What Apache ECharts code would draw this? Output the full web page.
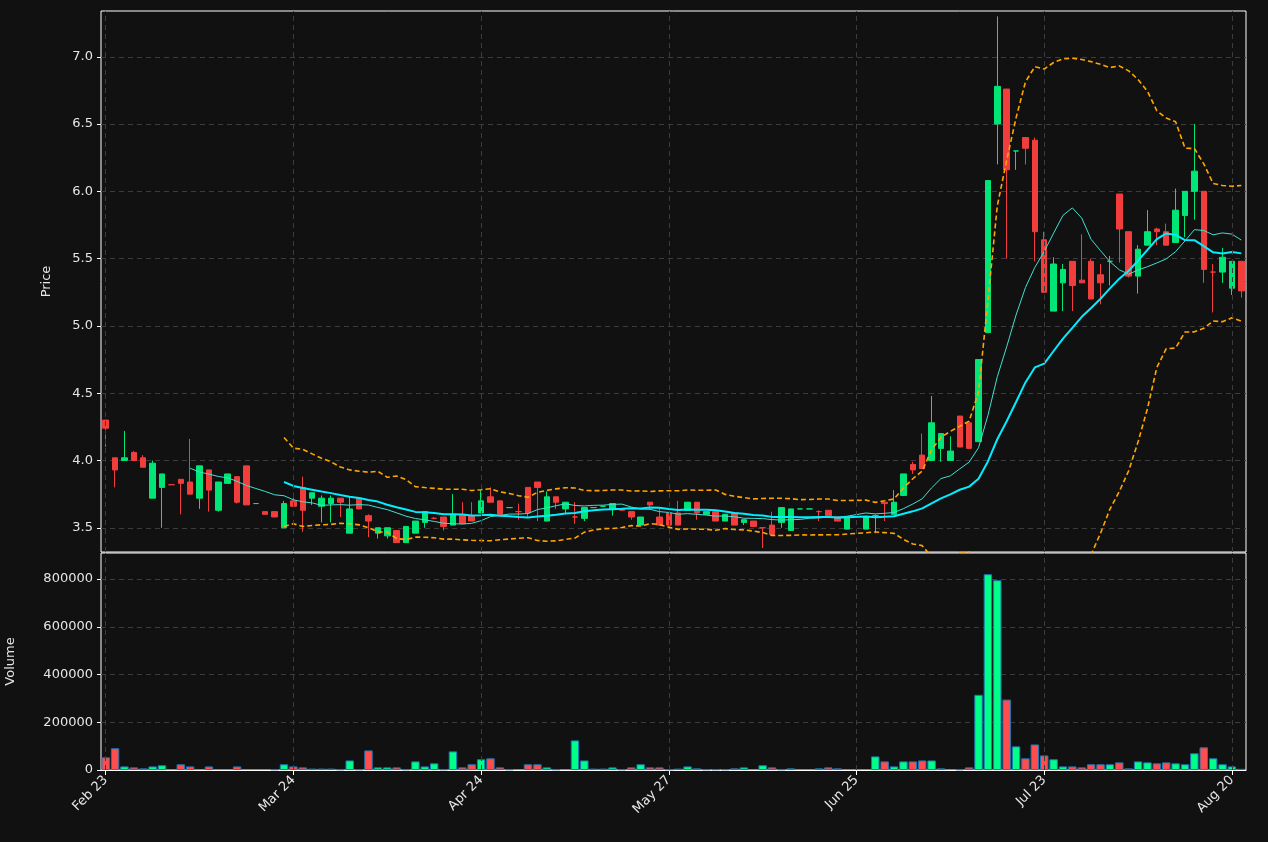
<!DOCTYPE html>
<html>
<head>
<meta charset="utf-8">
<script src="https://cdn.jsdelivr.net/npm/echarts@6/dist/echarts.min.js"></script>
<style>
html,body{margin:0;padding:0;background:#111111;}
#chart{width:1268px;height:842px;}
</style>
</head>
<body>
<div id="chart"></div>
<script>
// tick labels every 20 bars
var tickLabels = ['Feb 23', 'Mar 24', 'Apr 24', 'May 27', 'Jun 25', 'Jul 23', 'Aug 20'];

var opens = [4.30,4.02,4.00,4.06,4.02,3.72,3.80,3.82,3.86,3.84,3.72,3.93,3.63,3.83,3.88,3.96,3.68,3.62,3.62,3.50,
  3.70,3.80,3.72,3.66,3.68,3.72,3.46,3.72,3.59,3.46,3.44,3.48,3.39,3.46,3.54,3.57,3.58,3.52,3.60,3.59,
  3.61,3.73,3.70,3.65,3.62,3.80,3.84,3.55,3.73,3.64,3.58,3.57,3.65,3.66,3.64,3.64,3.62,3.52,3.69,3.58,
  3.61,3.61,3.63,3.69,3.60,3.62,3.55,3.61,3.54,3.55,3.50,3.52,3.54,3.48,3.64,3.64,3.62,3.63,3.58,3.49,
  null,3.49,3.59,3.69,3.60,3.74,3.97,4.04,4.00,4.09,4.00,4.33,4.28,4.14,4.95,6.50,6.76,6.30,6.40,6.38,
  5.64,5.11,5.32,5.48,5.34,5.48,5.38,5.48,5.98,5.70,5.37,5.60,5.72,5.70,5.62,5.82,6.00,6.00,5.40,5.40,
  5.28,5.48];
var closes = [4.24,3.93,4.02,4.00,3.95,3.98,3.90,3.82,3.83,3.75,3.96,3.78,3.84,3.90,3.69,3.67,3.68,3.60,3.58,3.68,
  3.66,3.63,3.76,3.72,3.72,3.69,3.64,3.64,3.55,3.50,3.50,3.39,3.51,3.55,3.62,3.57,3.51,3.60,3.53,3.55,
  3.70,3.69,3.60,3.65,3.62,3.61,3.80,3.73,3.69,3.69,3.58,3.65,3.65,3.66,3.68,3.63,3.58,3.58,3.67,3.52,
  3.52,3.52,3.69,3.61,3.62,3.55,3.60,3.52,3.56,3.51,3.50,3.45,3.65,3.64,3.64,3.64,3.62,3.59,3.55,3.58,
  null,3.58,3.59,3.68,3.69,3.90,3.93,3.94,4.28,4.20,4.07,4.10,4.09,4.75,6.08,6.78,6.16,6.30,6.32,5.70,
  5.25,5.46,5.42,5.30,5.32,5.20,5.32,5.48,5.72,5.37,5.57,5.70,5.70,5.60,5.86,6.00,6.15,5.42,5.40,5.51,
  5.48,5.26];
var lows = [4.10,3.80,4.00,4.00,3.95,3.72,3.50,3.82,3.60,3.75,3.64,3.62,3.62,3.83,3.68,3.67,3.68,3.60,3.58,3.50,
  3.66,3.47,3.67,3.54,3.54,3.58,3.46,3.64,3.43,3.42,3.42,3.39,3.39,3.46,3.50,3.57,3.48,3.52,3.53,3.55,
  3.61,3.69,3.60,3.65,3.56,3.57,3.55,3.55,3.64,3.60,3.53,3.55,3.65,3.66,3.59,3.63,3.56,3.52,3.64,3.52,
  3.52,3.52,3.63,3.56,3.60,3.55,3.55,3.52,3.52,3.51,3.35,3.45,3.50,3.48,3.64,3.64,3.55,3.59,3.55,3.49,
  null,3.49,3.46,3.55,3.60,3.74,3.90,3.94,4.00,3.99,4.00,4.10,4.09,4.14,4.95,6.20,5.50,6.16,6.20,5.48,
  5.25,5.11,5.11,5.11,5.32,5.20,5.16,5.30,5.47,5.36,5.24,5.60,5.60,5.60,5.62,5.66,5.79,5.32,5.10,5.32,
  5.23,5.21];
var highs = [4.30,4.02,4.22,4.07,4.04,4.00,3.90,3.82,3.86,4.16,3.96,3.93,3.84,3.90,3.88,3.96,3.68,3.62,3.62,3.70,
  3.76,3.88,3.76,3.74,3.74,3.72,3.73,3.72,3.60,3.50,3.50,3.48,3.51,3.55,3.62,3.58,3.58,3.75,3.69,3.69,
  3.78,3.80,3.70,3.65,3.68,3.80,3.84,3.77,3.73,3.69,3.69,3.65,3.65,3.66,3.68,3.64,3.62,3.58,3.69,3.65,
  3.61,3.70,3.69,3.69,3.62,3.62,3.60,3.61,3.56,3.55,3.50,3.62,3.65,3.64,3.64,3.64,3.63,3.63,3.58,3.58,
  null,3.58,3.60,3.69,3.78,3.90,3.99,4.20,4.48,4.20,4.18,4.33,4.28,4.75,6.08,7.30,6.76,6.30,6.40,6.40,
  5.70,5.51,5.46,5.48,5.68,5.50,5.46,5.52,5.98,5.70,5.60,5.86,5.73,5.76,6.02,6.00,6.50,6.00,5.46,5.58,
  5.48,5.48];
var volumes = [53000,91000,15000,11000,7000,15000,20000,0,24000,15000,0,15000,0,0,15000,0,0,0,3000,24000,
  15000,11000,6000,6000,6000,3000,40000,3000,82000,11000,11000,11000,3000,36000,15000,28000,3000,78000,11000,24000,
  45000,49000,11000,3000,0,24000,24000,11000,3000,0,124000,40000,6000,6000,11000,3000,11000,24000,11000,11000,
  3000,6000,15000,7000,3000,3000,3000,7000,11000,0,20000,11000,3000,7000,0,0,7000,11000,7000,0,
  0,0,57000,36000,15000,36000,36000,40000,40000,7000,0,3000,11000,315000,820000,795000,295000,99000,49000,107000,
  61000,45000,15000,15000,11000,24000,24000,24000,32000,7000,36000,32000,28000,32000,28000,24000,70000,95000,49000,24000,
  15000,5000];

var UP = '#00e676', DOWN = '#f23d3d';
var cats = [], candles = [], vols = [];
for (var i = 0; i < closes.length; i++) {
  cats.push('d' + i);
  if (closes[i] == null) { candles.push('-'); } else { candles.push([opens[i], closes[i], lows[i], highs[i]]); }
  var up = closes[i] != null && closes[i] >= opens[i];
  vols.push(volumes[i] > 0 ? {value: volumes[i], itemStyle: {color: up ? '#00ff88' : '#ff4d4d'}} : '-');
}

// moving averages / bollinger from closes (skips missing day)
var rolling = function(n, fn) {
  var out = [];
  for (var i = 0; i < closes.length; i++) {
    var w = [];
    for (var j = Math.max(0, i - n + 1); j <= i; j++) if (closes[j] != null) w.push(closes[j]);
    if (i < n - 1 || closes[i] == null) { out.push('-'); continue; }
    out.push(fn(w));
  }
  return out;
};
var mean = function(w) { var s = 0; for (var k = 0; k < w.length; k++) s += w[k]; return s / w.length; };
var sd = function(w) { var m = mean(w), s = 0; for (var k = 0; k < w.length; k++) s += (w[k] - m) * (w[k] - m); return Math.sqrt(s / (w.length - 1)); };
var ma10 = rolling(10, mean);
var ma20 = rolling(20, mean);
var bbUp = rolling(20, function(w) { return +(mean(w) + 2 * sd(w)).toFixed(4); });
var bbLo = rolling(20, function(w) { return +(mean(w) - 2 * sd(w)).toFixed(4); });

// dashed vertical gridlines at the labelled bars
var vmark = function() {
  var lines = [];
  for (var t = 0; t < tickLabels.length; t++) lines.push({xAxis: 'd' + (t * 20)});
  return {silent: true, symbol: ['none', 'none'], label: {show: false}, emphasis: {disabled: true},
    lineStyle: {color: '#3c3c3c', type: [5, 4], width: 1}, data: lines, animation: false};
};

var gridLine = {show: true, lineStyle: {color: '#3c3c3c', type: [5, 4]}};
var txt = {color: '#e6e6e6', fontFamily: 'DejaVu Sans', fontSize: 13};

var myChart = echarts.init(document.getElementById('chart'));
var option = {
  backgroundColor: '#111111',
  animation: false,
  grid: [
    {left: 101, top: 11, width: 1145, height: 541, outerBoundsMode: 'none', containLabel: false, show: true, borderColor: '#ffffff', borderWidth: 1, backgroundColor: 'transparent'},
    {left: 101, top: 553, width: 1145, height: 217, outerBoundsMode: 'none', containLabel: false, show: true, borderColor: '#ffffff', borderWidth: 1, backgroundColor: 'transparent'}
  ],
  xAxis: [
    {type: 'category', gridIndex: 0, data: cats, boundaryGap: true, axisLine: {show: false}, axisTick: {show: false}, axisLabel: {show: false}, splitLine: {show: false}},
    {type: 'category', gridIndex: 1, data: cats, boundaryGap: true, position: 'bottom',
      axisLine: {onZero: false, lineStyle: {color: '#ffffff'}},
      axisTick: {show: true, alignWithLabel: true, length: 5, interval: function(idx) { return idx % 20 === 0; }, lineStyle: {color: '#ffffff'}},
      axisLabel: {show: true, rotate: 45, margin: 8, color: txt.color, fontFamily: txt.fontFamily, fontSize: 13,
        interval: function(idx) { return idx % 20 === 0; },
        formatter: function(v, idx) { return tickLabels[idx / 20]; }},
      splitLine: {show: false}}
  ],
  yAxis: [
    {type: 'value', gridIndex: 0, position: 'left', min: 3.32, max: 7.34, name: 'Price', nameLocation: 'middle', nameGap: 48, nameRotate: 90,
      nameTextStyle: txt,
      axisLine: {show: false, onZero: false},
      axisTick: {show: true, customValues: [3.5, 4.0, 4.5, 5.0, 5.5, 6.0, 6.5, 7.0], length: 4, lineStyle: {color: '#ffffff'}},
      axisLabel: {customValues: [3.5, 4.0, 4.5, 5.0, 5.5, 6.0, 6.5, 7.0], color: txt.color, fontFamily: txt.fontFamily, fontSize: 13,
        formatter: function(v) { return v.toFixed(1); }},
      splitLine: gridLine},
    {type: 'value', gridIndex: 1, position: 'left', min: 0, max: 909000, name: 'Volume', nameLocation: 'middle', nameGap: 84, nameRotate: 90,
      nameTextStyle: txt,
      axisLine: {show: false, onZero: false},
      axisTick: {show: true, customValues: [0, 200000, 400000, 600000, 800000], length: 4, lineStyle: {color: '#ffffff'}},
      axisLabel: {customValues: [0, 200000, 400000, 600000, 800000], color: txt.color, fontFamily: txt.fontFamily, fontSize: 13,
        formatter: function(v) { return String(v); }},
      splitLine: gridLine}
  ],
  series: [
    {type: 'candlestick', xAxisIndex: 0, yAxisIndex: 0, data: candles, barWidth: 6,
      itemStyle: {color: UP, color0: DOWN, borderColor: UP, borderColor0: DOWN, borderWidth: 1},
      markLine: vmark()},
    {type: 'line', xAxisIndex: 0, yAxisIndex: 0, data: ma10, symbol: 'none', connectNulls: true, lineStyle: {color: '#40e0d0', width: 1}},
    {type: 'line', xAxisIndex: 0, yAxisIndex: 0, data: ma20, symbol: 'none', connectNulls: true, lineStyle: {color: '#00eeff', width: 2}},
    {type: 'line', xAxisIndex: 0, yAxisIndex: 0, data: bbUp, symbol: 'none', connectNulls: true, lineStyle: {color: '#ffa500', width: 1.6, type: [5, 3]}},
    {type: 'line', xAxisIndex: 0, yAxisIndex: 0, data: bbLo, symbol: 'none', connectNulls: true, lineStyle: {color: '#ffa500', width: 1.6, type: [5, 3]}},
    {type: 'line', xAxisIndex: 1, yAxisIndex: 1, data: [], symbol: 'none', markLine: vmark()},
    {type: 'bar', xAxisIndex: 1, yAxisIndex: 1, data: vols, barWidth: '90%', z: 3,
      itemStyle: {borderColor: '#1f77b4', borderWidth: 1}}
  ]
};
myChart.setOption(option);
</script>
</body>
</html>
